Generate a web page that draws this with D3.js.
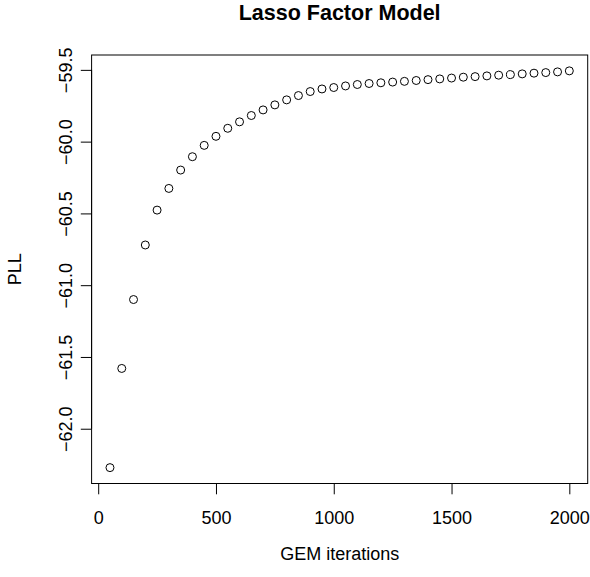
<!DOCTYPE html>
<html>
<head>
<meta charset="utf-8">
<script src="https://cdn.jsdelivr.net/npm/d3@7"></script>
<style>
  body { margin: 0; background: #fff; }
  text { font-family: "Liberation Sans", Arial, sans-serif; fill: #000; }
</style>
</head>
<body>
<div class="chart"></div>
<script>
// Data
var iterations = [50, 100, 150, 200, 250, 300, 350, 400, 450, 500,
  550, 600, 650, 700, 750, 800, 850, 900, 950, 1000,
  1050, 1100, 1150, 1200, 1250, 1300, 1350, 1400, 1450, 1500,
  1550, 1600, 1650, 1700, 1750, 1800, 1850, 1900, 1950, 2000];
var pll = [-62.271, -61.58, -61.10, -60.72, -60.477, -60.326, -60.198, -60.105, -60.026, -59.963,
  -59.907, -59.862, -59.818, -59.779, -59.744, -59.709, -59.679, -59.651, -59.633, -59.623,
  -59.612, -59.602, -59.595, -59.590, -59.585, -59.580, -59.574, -59.568, -59.563, -59.557,
  -59.551, -59.547, -59.542, -59.537, -59.533, -59.528, -59.523, -59.519, -59.514, -59.507];
var xTicks = [0, 500, 1000, 1500, 2000];
var yTicks = [-62.0, -61.5, -61.0, -60.5, -60.0, -59.5];

var svgWidth = 590;
var svgHeight = 577;
var plot = { left: 91.6, right: 587.7, top: 55, bottom: 483.5 };
var fontSize = "18px";
var tickLen = 10.8;

var svg = d3.select(".chart")
  .append("svg")
  .attr("width", svgWidth)
  .attr("height", svgHeight);

// R style 4% padding on both axes
function padded(arr) {
  var lo = d3.min(arr), hi = d3.max(arr), d = (hi - lo) * 0.04;
  return [lo - d, hi + d];
}

var x = d3.scaleLinear().domain(padded(iterations)).range([plot.left, plot.right]);
var y = d3.scaleLinear().domain(padded(pll)).range([plot.bottom, plot.top]);

// box
svg.append("rect")
  .attr("x", plot.left)
  .attr("y", plot.top)
  .attr("width", plot.right - plot.left)
  .attr("height", plot.bottom - plot.top)
  .attr("fill", "none")
  .attr("stroke", "#000")
  .attr("stroke-width", 1);

// x axis
var xAxis = svg.append("g")
  .attr("transform", "translate(0," + plot.bottom + ")")
  .call(d3.axisBottom(x).tickValues(xTicks).tickFormat(d3.format("d")).tickSize(tickLen).tickSizeOuter(0));
xAxis.select(".domain")
  .attr("d", "M" + x(xTicks[0]) + ",0H" + x(xTicks[xTicks.length - 1]));
xAxis.selectAll("text")
  .style("font-size", fontSize)
  .attr("y", 34.5)
  .attr("dy", null)
  .attr("dominant-baseline", "central");

// y axis
var yAxis = svg.append("g")
  .attr("transform", "translate(" + plot.left + ",0)")
  .call(d3.axisLeft(y).tickValues(yTicks).tickFormat(d3.format(".1f")).tickSize(tickLen).tickSizeOuter(0));
yAxis.select(".domain")
  .attr("d", "M0," + y(yTicks[0]) + "V" + y(yTicks[yTicks.length - 1]));
yAxis.selectAll("text")
  .style("font-size", fontSize)
  .attr("text-anchor", "middle")
  .attr("x", null)
  .attr("dy", null)
  .attr("dominant-baseline", "central")
  .attr("transform", "translate(-25.5,0) rotate(-90)");

svg.selectAll(".tick line, .domain").attr("stroke", "#000");

// points
svg.append("g").selectAll("circle")
  .data(iterations)
  .enter().append("circle")
  .attr("cx", function(d) { return x(d); })
  .attr("cy", function(d, i) { return y(pll[i]); })
  .attr("r", 4)
  .attr("fill", "none")
  .attr("stroke", "#000")
  .attr("stroke-width", 1);

// labels
svg.append("text")
  .attr("x", (plot.left + plot.right) / 2)
  .attr("y", 13)
  .attr("dominant-baseline", "central")
  .attr("text-anchor", "middle")
  .style("font-size", "21.5px")
  .style("font-weight", "bold")
  .text("Lasso Factor Model");

svg.append("text")
  .attr("x", (plot.left + plot.right) / 2)
  .attr("y", 554)
  .attr("dominant-baseline", "central")
  .attr("text-anchor", "middle")
  .style("font-size", fontSize)
  .text("GEM iterations");

svg.append("text")
  .attr("transform", "translate(15," + ((plot.top + plot.bottom) / 2) + ") rotate(-90)")
  .attr("dominant-baseline", "central")
  .attr("text-anchor", "middle")
  .style("font-size", fontSize)
  .text("PLL");
</script>
</body>
</html>
